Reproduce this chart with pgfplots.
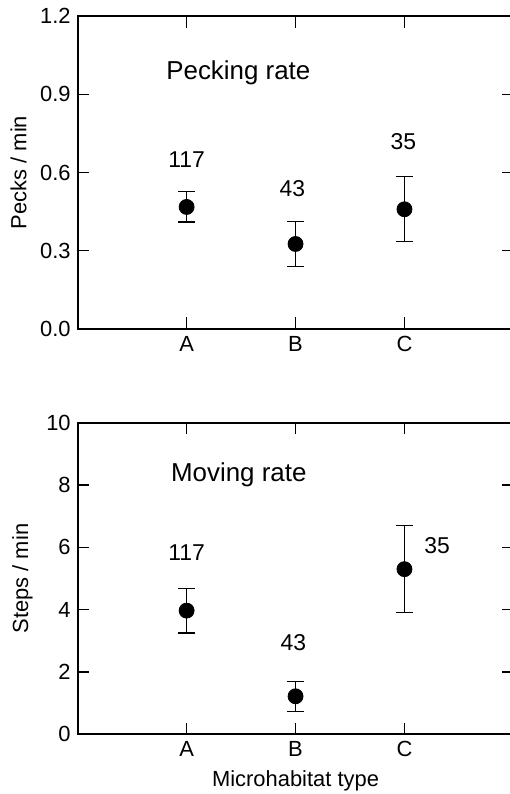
\documentclass[border=0pt]{standalone}
\usepackage{fontspec}
\setmainfont{Liberation Sans}
\usepackage{pgfplots}
\pgfplotsset{compat=1.18}
\begin{document}
\begin{tikzpicture}
\pgfplotsset{
  myax/.style={
    scale only axis, width=217.85bp, xmin=0, xmax=4,
    xtick={1,2,3}, xticklabels={A,B,C},
    tick align=inside, major tick length=5.8bp,
    axis line style={line width=0.9bp},
    tick style={line width=0.7bp, black},
    every tick label/.append style={font=\fontsize{11}{13}\selectfont},
    label style={font=\fontsize{11}{13}\selectfont},
    xtick pos=both, ytick pos=both,
    clip=false,
  },
  eb/.style={only marks, mark=*, mark size=3.75bp, black,
    error bars/.cd, y dir=both, y explicit,
    error bar style={line width=0.6bp,black},
    error mark options={rotate=90, mark size=4.3bp, line width=0.6bp}},
}
\begin{axis}[myax, height=156.5bp, ymin=0, ymax=1.2,
  ytick={0,0.3,0.6,0.9,1.2}, yticklabels={0.0,0.3,0.6,0.9,1.2},
  ylabel={Pecks / min}]
\addplot[eb] coordinates {(1,0.468) +- (0,0.058) (2,0.326) +- (0,0.085) (3,0.459) +- (0,0.125)};
\node[font=\fontsize{11.5}{13}\selectfont] at (axis cs:1,0.648) {117};
\node[font=\fontsize{11.5}{13}\selectfont] at (axis cs:1.97,0.537) {43};
\node[font=\fontsize{11.5}{13}\selectfont] at (axis cs:2.99,0.718) {35};
\node[font=\fontsize{13}{15}\selectfont, anchor=west, inner sep=0pt] at (axis cs:0.81,0.983) {Pecking rate};
\end{axis}
\begin{axis}[myax, at={(0,-202.65bp)}, height=155.8bp, ymin=0, ymax=10,
  ytick={0,2,4,6,8,10}, yticklabels={0,2,4,6,8,10},
  xlabel={Microhabitat type}, ylabel={Steps / min}]
\addplot[eb] coordinates {(1,3.97) +- (0,0.72) (2,1.22) +- (0,0.48) (3,5.30) +- (0,1.40)};
\node[font=\fontsize{11.5}{13}\selectfont] at (axis cs:1,5.83) {117};
\node[font=\fontsize{11.5}{13}\selectfont] at (axis cs:1.98,2.94) {43};
\node[font=\fontsize{11.5}{13}\selectfont, anchor=west, inner sep=0pt] at (axis cs:3.18,6.07) {35};
\node[font=\fontsize{13}{15}\selectfont, anchor=west, inner sep=0pt] at (axis cs:0.854,8.32) {Moving rate};
\end{axis}
\pgfresetboundingbox
\path[use as bounding box] (-38.85bp,-232.5bp) rectangle (216.15bp,164.5bp);
\end{tikzpicture}
\end{document}
